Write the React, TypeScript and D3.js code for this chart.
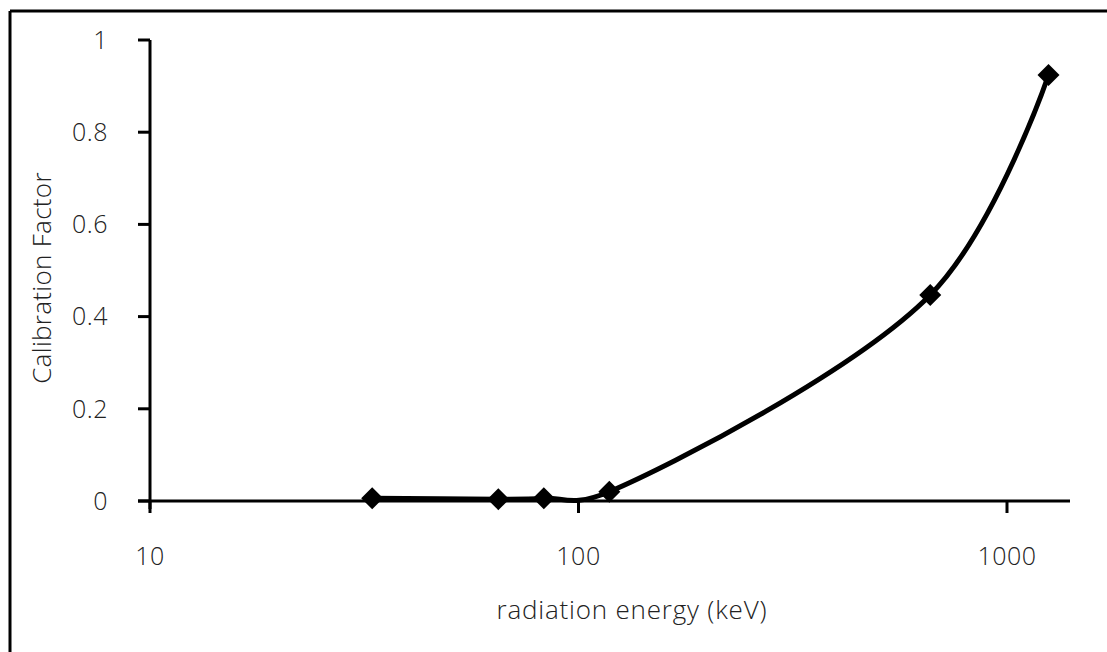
import React from "react";
import * as d3 from "d3";

const energies = [33, 65, 83, 118, 662, 1250];
const factors = [0.006, 0.004, 0.006, 0.02, 0.447, 0.924];
const yTicks = [0, 0.2, 0.4, 0.6, 0.8, 1];
const xTicks = [10, 100, 1000];

export default function App() {
  const W = 1107, H = 652;
  const x = d3.scaleLog().domain([10, 1000]).range([150, 1007]);
  const y = d3.scaleLinear().domain([0, 1]).range([501, 40]);
  const xEnd = 1070;
  const pts = energies.map((e, i) => [x(e), y(factors[i])] as [number, number]);
  const line = d3.line().curve(d3.curveCatmullRom.alpha(0.3))(pts) || "";
  const font = "'Open Sans', 'Liberation Sans', Arial, sans-serif";
  const diamond = (cx: number, cy: number) => {
    const r = 11;
    return `M${cx},${cy - r}L${cx + r},${cy}L${cx},${cy + r}L${cx - r},${cy}Z`;
  };
  const fs = 25;
  return (
    <svg width={W} height={H} style={{ position: "absolute", left: 0, top: 0, background: "#fff" }}>
      <rect x={0} y={0} width={W} height={H} fill="#fff" />
      {/* frame */}
      <line x1={10} y1={11} x2={W + 5} y2={11} stroke="#000" strokeWidth={3} />
      <line x1={10} y1={11} x2={10} y2={H + 5} stroke="#000" strokeWidth={3} />
      {/* y axis */}
      <line x1={150} y1={y(1)} x2={150} y2={y(0) + 8} stroke="#000" strokeWidth={3} />
      {yTicks.map((t) => (
        <g key={"y" + t}>
          <line x1={138} x2={150} y1={y(t)} y2={y(t)} stroke="#000" strokeWidth={3} />
          <text x={108} y={y(t)} dy="0.35em" textAnchor="end" fontFamily={font} fontSize={fs} fontWeight={300} letterSpacing={0.5} fill="#222">
            {String(t)}
          </text>
        </g>
      ))}
      {/* x axis */}
      <line x1={138} y1={y(0)} x2={xEnd} y2={y(0)} stroke="#000" strokeWidth={3} />
      {xTicks.map((t) => (
        <g key={"x" + t}>
          <line x1={x(t)} x2={x(t)} y1={y(0)} y2={y(0) + 12} stroke="#000" strokeWidth={3} />
          <text x={x(t)} y={556} dy="0.35em" textAnchor="middle" fontFamily={font} fontSize={fs} fontWeight={300} letterSpacing={0.5} fill="#222">
            {String(t)}
          </text>
        </g>
      ))}
      {/* titles */}
      <text x={632} y={610} dy="0.35em" textAnchor="middle" fontFamily={font} fontSize={26} fontWeight={300} letterSpacing={0.8} fill="#222">
        radiation energy (keV)
      </text>
      <text
        transform={`translate(42,278) rotate(-90)`}
        dy="0.35em"
        textAnchor="middle"
        fontFamily={font}
        fontSize={26}
        fontWeight={300}
        letterSpacing={0.3}
        fill="#222"
      >
        Calibration Factor
      </text>
      {/* series */}
      <path d={line} fill="none" stroke="#000" strokeWidth={5} strokeLinejoin="round" />
      {pts.map(([cx, cy], i) => (
        <path key={i} d={diamond(cx, cy)} fill="#000" />
      ))}
    </svg>
  );
}
